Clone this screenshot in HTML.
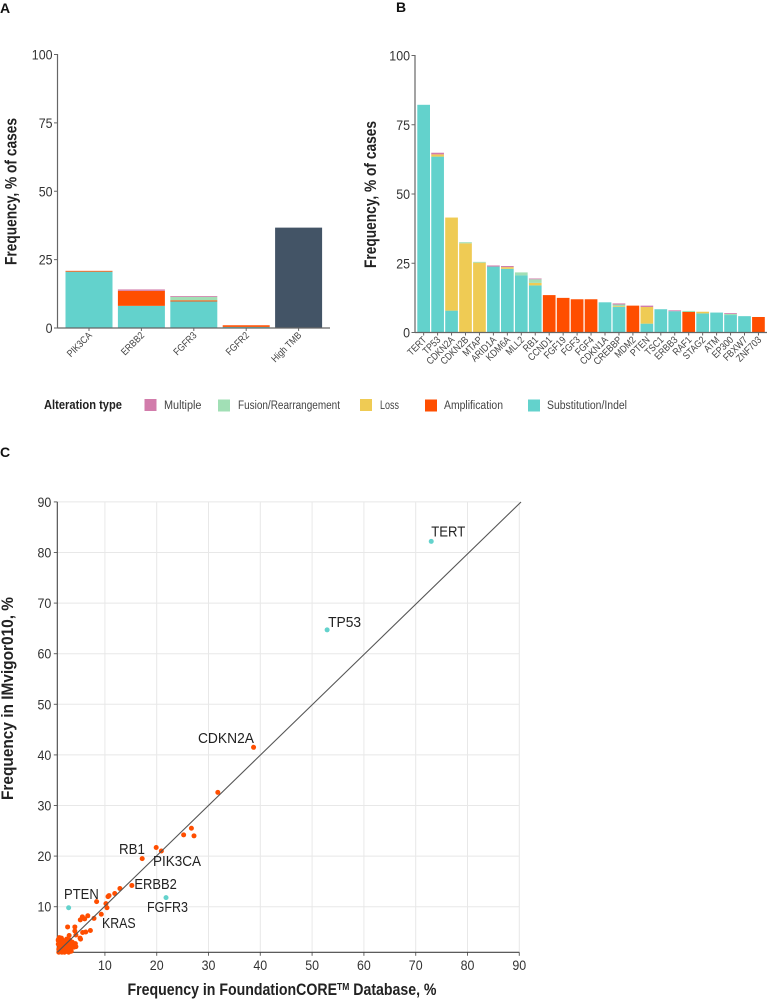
<!DOCTYPE html>
<html lang="en">
<head>
<meta charset="utf-8">
<title>Genomic alteration frequency charts</title>
<style>
html,body{margin:0;padding:0;background:#fff;}
svg{display:block;font-family:"Liberation Sans",sans-serif;}
.tick{font-size:14px;fill:#333;}
.gene{font-size:10px;fill:#444;}
.title{font-size:16.5px;font-weight:700;fill:#222;}
.panel{font-size:14px;font-weight:700;fill:#111;}
.leg{font-size:11.5px;fill:#444;}
.lab{font-size:15px;fill:#222;}
</style>
</head>
<body>
<svg id="chart" width="767" height="999" viewBox="0 0 767 999" xmlns="http://www.w3.org/2000/svg">
  <text class="panel" x="0" y="13">A</text>
  <text class="panel" x="396" y="12">B</text>
  <text class="panel" x="0" y="457">C</text>

  <g id="panelA"></g>
  <g id="panelB"></g>
  <g id="panelC"></g>

  <text class="title" transform="translate(16.5,265) rotate(-90)" textLength="147" lengthAdjust="spacingAndGlyphs">Frequency, % of cases</text>
  <text class="title" transform="translate(376,268) rotate(-90)" textLength="147" lengthAdjust="spacingAndGlyphs">Frequency, % of cases</text>

  <g>
    <text x="44" y="409" font-size="12.5px" font-weight="700" fill="#222" textLength="78" lengthAdjust="spacingAndGlyphs">Alteration type</text>
    <rect x="144.5" y="399" width="12" height="12" fill="#D27CAB"/>
    <text class="leg" x="164" y="409" textLength="37.5" lengthAdjust="spacingAndGlyphs">Multiple</text>
    <rect x="218" y="399.5" width="12" height="12" fill="#A1DFB5"/>
    <text class="leg" x="238" y="409" textLength="102" lengthAdjust="spacingAndGlyphs">Fusion/Rearrangement</text>
    <rect x="360" y="399" width="12" height="12" fill="#EFCB54"/>
    <text class="leg" x="380" y="409" textLength="19" lengthAdjust="spacingAndGlyphs">Loss</text>
    <rect x="425" y="399.5" width="12" height="12" fill="#FF4E00"/>
    <text class="leg" x="444" y="409" textLength="59" lengthAdjust="spacingAndGlyphs">Amplification</text>
    <rect x="528" y="399.5" width="12" height="12" fill="#63D2CC"/>
    <text class="leg" x="547" y="409" textLength="80" lengthAdjust="spacingAndGlyphs">Substitution/Indel</text>
  </g>
</svg>
<script>
/* Panel A data */
var genesA = ["PIK3CA", "ERBB2", "FGFR3", "FGFR2", "High TMB"];
var substA = [20.6, 8.1, 9.7, 0.4, 0];
var ampA = [0.3, 5.5, 0.4, 0.6, 0];
var lossA = [0, 0, 0, 0, 0];
var fusionA = [0, 0, 1.3, 0, 0];
var multipleA = [0, 0.5, 0.3, 0, 0];
var tmbA = [0, 0, 0, 0, 36.7];

/* Panel B data */
var genesB = ["TERT", "TP53", "CDKN2A", "CDKN2B", "MTAP", "ARID1A", "KDM6A", "MLL2", "RB1", "CCND1", "FGF19", "FGF3", "FGF4", "CDKN1A", "CREBBP", "MDM2", "PTEN", "TSC1", "ERBB3", "RAF1", "STAG2", "ATM", "EP300", "FBXW7", "ZNF703"];
var substB = [82.2, 63.5, 7.9, 0, 0, 23.8, 23, 20.6, 17, 0, 0, 0, 0, 10.9, 9.2, 0, 3.2, 8.4, 7.7, 0, 6.9, 7.2, 6.3, 5.9, 0];
var ampB = [0, 0, 0, 0, 0, 0, 0, 0, 0, 13.5, 12.5, 12, 12, 0, 0, 9.7, 0, 0, 0, 7.4, 0, 0, 0, 0, 5.6];
var lossB = [0, 0.8, 33.6, 32.2, 25.2, 0, 0.6, 0, 0.9, 0, 0, 0, 0, 0, 0.3, 0, 6, 0, 0, 0, 0.6, 0, 0, 0, 0];
var fusionB = [0, 0, 0, 0.4, 0.3, 0, 0, 1.1, 1.3, 0, 0, 0, 0, 0, 0.6, 0, 0, 0, 0, 0.4, 0, 0, 0.4, 0, 0];
var multipleB = [0, 0.6, 0, 0, 0, 0.4, 0.4, 0, 0.3, 0, 0, 0, 0, 0, 0.4, 0, 0.5, 0, 0.3, 0, 0, 0, 0.3, 0, 0];

var barTicks = [0, 25, 50, 75, 100];

/* Panel C data */
var scatterTicks = [10, 20, 30, 40, 50, 60, 70, 80, 90];
var tealX = [73, 52.9, 21.8, 3];
var tealY = [82.2, 64.7, 11.8, 9.8];
var orangeX = [38.7, 31.8, 25.2, 26.7, 27.2, 17.2, 19.9, 20.9, 15.2, 12.9, 11.9, 10.8, 10.6, 8.4, 10.2, 10.4, 9.3, 7.9, 6.7, 5.25, 5.65, 6.1, 2.8, 4.2, 4.2, 4.4, 3.1, 5.3, 6.3, 5.7, 7.2, 4.4, 5.2,
  1, 1.2, 1.4, 1.6, 1.8, 2, 2.2, 2.4, 2.6, 2.8, 3, 3.3, 3.6, 1.1, 1.3, 1.5, 1.7, 1.9, 2.1, 2.3, 2.5, 2.7, 1, 1.2, 1.5, 1.8, 2.1, 2.4, 2.9, 3.2, 3.5, 1.1, 1.4, 1.7, 2, 2.6, 3.5, 3, 4, 4.3, 2.2, 1.2, 1, 1.6, 2.6, 3.7, 3.2];
var orangeY = [41.5, 32.6, 24.2, 25.5, 24, 19.5, 21.7, 21, 14.2, 13.6, 12.6, 12.2, 12, 11, 10.6, 9.8, 8.5, 7.7, 8.2, 7.4, 8, 7.6, 6, 6, 5.2, 4.4, 4.3, 3.6, 5, 4.9, 5.3, 2.1, 3.8,
  3.3, 3.7, 3, 2.6, 3.4, 2.9, 2.5, 2.1, 3.1, 2.5, 2.8, 1.9, 2.3, 1.6, 2.1, 1.5, 2, 1.3, 1.7, 1.1, 1.6, 1.2, 2.6, 1.2, 1.1, 2.4, 2.2, 1.7, 1.4, 1.5, 1.8, 1, 1.8, 1, 1.1, 2.1, 1.2, 1, 2, 2.7, 1, 3.9, 3.5, 3.8, 3.6, 3, 3.4];
var labelNames = ["TERT", "TP53", "CDKN2A", "RB1", "PIK3CA", "ERBB2", "PTEN", "FGFR3", "KRAS"];
var labelValX = [73.0, 52.9, 38.7, 17.2, 20.9, 15.2, 3.0, 21.8, 9.3];
var labelValY = [82.2, 64.7, 41.5, 19.5, 21.0, 14.2, 9.8, 11.8, 8.5];

var NS = "http://www.w3.org/2000/svg";
function make(parent, tag, attrs, text) {
  var el = document.createElementNS(NS, tag);
  for (var k in attrs) { el.setAttribute(k, attrs[k]); }
  if (text !== undefined) { el.textContent = text; }
  parent.appendChild(el);
  return el;
}
function slug(s) { return s.toLowerCase().replace(/[^a-z0-9]+/g, "-"); }

var AXIS = "#666";
var COLORS = { subst: "#63D2CC", amp: "#FF4E00", loss: "#EFCB54", fusion: "#A1DFB5", multiple: "#D27CAB", tmb: "#435466" };

function drawBars(cfg) {
  var g = cfg.group;
  function y(v) { return cfg.y0 - v * cfg.yScale; }
  barTicks.forEach(function (t) {
    var tk = make(g, "line", { x1: cfg.axisX - 3.5, x2: cfg.axisX, y1: y(t), y2: y(t), stroke: AXIS, "stroke-width": 1 });
    
    
    var s = String(t);
    var lb = make(g, "text", { "class": "tick", x: cfg.axisX - 5, y: y(t) + 5, "text-anchor": "end", textLength: s.length * 6.9, lengthAdjust: "spacingAndGlyphs" }, s);
    
    
  });
  cfg.genes.forEach(function (gene, i) {
    var left = cfg.firstX + i * cfg.step;
    var base = 0;
    cfg.series.forEach(function (s) {
      var v = s.values[i];
      if (!v) { return; }
      var r = make(g, "rect", { x: left, y: y(base + v), width: cfg.barW, height: v * cfg.yScale, fill: s.color });
      
      
      base += v;
    });
    var cx = left + cfg.barW / 2;
    var tk = make(g, "line", { x1: cx, x2: cx, y1: cfg.y0, y2: cfg.y0 + 3, stroke: AXIS, "stroke-width": 1 });
    
    
    var lb = make(g, "text", { "class": "gene", "text-anchor": "end", transform: "translate(" + (cx + 3.5) + "," + (cfg.y0 + 8) + ") rotate(-45) scale(0.86,1)" }, gene);
    
    
  });
  var ya = make(g, "line", { x1: cfg.axisX, x2: cfg.axisX, y1: y(100) - 0.5, y2: cfg.y0 + 0.5, stroke: AXIS, "stroke-width": 1.2 });
  
  
  var xa = make(g, "line", { x1: cfg.axisX, x2: cfg.axisEnd, y1: cfg.y0, y2: cfg.y0, stroke: AXIS, "stroke-width": 1.2 });
  
  
}

drawBars({
  group: document.getElementById("panelA"), prefix: "panel-a", genes: genesA,
  axisX: 57.5, axisEnd: 330, y0: 328, yScale: 2.735, firstX: 65.5, step: 52.4, barW: 47,
  series: [
    { name: "substitution", values: substA, color: COLORS.subst },
    { name: "amplification", values: ampA, color: COLORS.amp },
    { name: "loss", values: lossA, color: COLORS.loss },
    { name: "fusion", values: fusionA, color: COLORS.fusion },
    { name: "multiple", values: multipleA, color: COLORS.multiple },
    { name: "high-tmb", values: tmbA, color: COLORS.tmb }
  ]
});

drawBars({
  group: document.getElementById("panelB"), prefix: "panel-b", genes: genesB,
  axisX: 415, axisEnd: 767, y0: 332.5, yScale: 2.77, firstX: 417.3, step: 13.95, barW: 12.7,
  series: [
    { name: "substitution", values: substB, color: COLORS.subst },
    { name: "amplification", values: ampB, color: COLORS.amp },
    { name: "loss", values: lossB, color: COLORS.loss },
    { name: "fusion", values: fusionB, color: COLORS.fusion },
    { name: "multiple", values: multipleB, color: COLORS.multiple }
  ]
});

/* Panel C axis functions */
function sx(v) { return 53.1 + v * 5.18; }
function sy(v) { return 957.3 - v * 5.06; }

(function () {
  var g = document.getElementById("panelC");
  var left = 57.3, bottom = 952.3;
  scatterTicks.forEach(function (t) {
    var gv = make(g, "line", { x1: sx(t), x2: sx(t), y1: sy(90), y2: bottom, stroke: "#e8e8e8", "stroke-width": 1 });
    
    
    var gh = make(g, "line", { x1: left, x2: sx(90), y1: sy(t), y2: sy(t), stroke: "#e8e8e8", "stroke-width": 1 });
    
    
    var tx = make(g, "line", { x1: sx(t), x2: sx(t), y1: bottom, y2: bottom + 3.5, stroke: AXIS, "stroke-width": 1 });
    
    
    var ty = make(g, "line", { x1: left - 3.5, x2: left, y1: sy(t), y2: sy(t), stroke: AXIS, "stroke-width": 1 });
    
    
    var s = String(t);
    var lx = make(g, "text", { "class": "tick", x: sx(t), y: 970, "text-anchor": "middle", textLength: s.length * 6.9, lengthAdjust: "spacingAndGlyphs" }, s);
    
    
    var ly = make(g, "text", { "class": "tick", x: left - 6, y: sy(t) + 5, "text-anchor": "end", textLength: s.length * 6.9, lengthAdjust: "spacingAndGlyphs" }, s);
    
    
  });
  var ya = make(g, "line", { x1: left, x2: left, y1: sy(90), y2: bottom, stroke: "#444", "stroke-width": 1.1 });
  
  
  var xa = make(g, "line", { x1: left, x2: sx(90), y1: bottom, y2: bottom, stroke: "#444", "stroke-width": 1.1 });
  
  

  orangeX.forEach(function (v, i) {
    var c = make(g, "circle", { cx: sx(v), cy: sy(orangeY[i]), r: 2.5, fill: COLORS.amp });
    
    
  });
  tealX.forEach(function (v, i) {
    var c = make(g, "circle", { cx: sx(v), cy: sy(tealY[i]), r: 2.5, fill: COLORS.subst });
    
    
  });

  var diag = make(g, "line", { x1: left, y1: bottom, x2: 521, y2: 502, stroke: "#555", "stroke-width": 1.1 });
  
  

  /* gene label offsets are label placement relative to each annotated point */
  var dxs = [0, 1, -55.6, -23.2, -8.4, 2.5, -4.6, -19, 0.7];
  var dys = [-5, -3, -4.3, -4.6, 15, 3.6, -8.7, 14.4, 13.7];
  var lens = [34, 33, 56, 26, 48, 42.5, 34.7, 41, 33.7];
  labelNames.forEach(function (name, i) {
    var t = make(g, "text", { "class": "lab", x: sx(labelValX[i]) + dxs[i], y: sy(labelValY[i]) + dys[i], textLength: lens[i], lengthAdjust: "spacingAndGlyphs" }, name);
    
    
  });

  var xt = make(g, "text", { "class": "title", x: 127.5, y: 995, textLength: 309, lengthAdjust: "spacingAndGlyphs" });
  
  
  make(xt, "tspan", {}, "Frequency in FoundationCORE");
  make(xt, "tspan", { dy: -5, "font-size": "10px" }, "TM");
  make(xt, "tspan", { dy: 5 }, " Database, %");

  var yt = make(g, "text", { "class": "title", transform: "translate(13,800) rotate(-90)", textLength: 203, lengthAdjust: "spacingAndGlyphs" }, "Frequency in IMvigor010, %");
  
  
})();
</script>
</body>
</html>
